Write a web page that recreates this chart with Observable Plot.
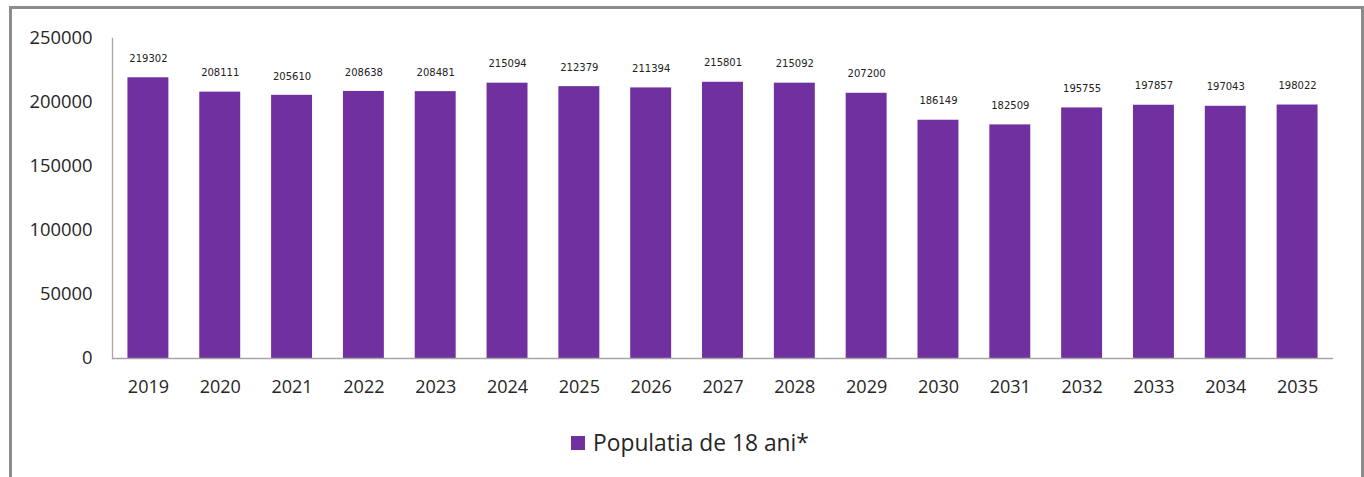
<!DOCTYPE html>
<html>
<head>
<meta charset="utf-8">
<script src="https://cdn.jsdelivr.net/npm/d3@7"></script>
<script src="https://cdn.jsdelivr.net/npm/@observablehq/plot@0.6"></script>
<style>
  html, body { margin: 0; padding: 0; background: #fff; overflow: hidden; width: 1364px; height: 477px; }
  #frame { position: absolute; left: 9px; top: 6px; width: 1355px; height: 540px; border: 3px solid #8c8c8c; box-sizing: border-box; }
  #chart { position: absolute; left: 0; top: 0; }
  #legend { position: absolute; left: 571px; top: 427px; display: flex; align-items: center; font-family: "Open Sans", sans-serif; font-size: 22.8px; color: #262626; }
  #legend .sw { width: 14px; height: 14px; background: #7030A0; margin-right: 8px; }
</style>
</head>
<body>
<div id="frame"></div>
<div id="chart"></div>
<div id="legend"><span class="sw"></span><span>Populatia de 18 ani*</span></div>
<script>
const years = ["2019","2020","2021","2022","2023","2024","2025","2026","2027","2028","2029","2030","2031","2032","2033","2034","2035"];
const population = [219302,208111,205610,208638,208481,215094,212379,211394,215801,215092,207200,186149,182509,195755,197857,197043,198022];
const yTicks = [0,50000,100000,150000,200000,250000];
const seriesName = "Populatia de 18 ani*";

const data = years.map((y, i) => ({year: y, value: population[i]}));

const chart = Plot.plot({
  width: 1364,
  height: 410,
  marginLeft: 112,
  marginRight: 31,
  marginTop: 38,
  marginBottom: 52,
  style: {fontFamily: "'Open Sans', sans-serif", color: "#262626", background: "transparent", overflow: "visible"},
  x: {domain: years, paddingInner: 0.43, paddingOuter: 0.215, round: false, label: null},
  y: {domain: [0, 250000], label: null},
  marks: [
    Plot.barY(data, {x: "year", y: "value", fill: "#7030A0"}),
    Plot.ruleY([0], {stroke: "#a6a6a6", strokeWidth: 1.3}),
    Plot.frame({anchor: "left", stroke: "#a6a6a6", strokeWidth: 1.3}),
    Plot.text(data, {x: "year", y: "value", text: d => String(d.value), dy: -19, fontSize: 10, fontFamily: "'DejaVu Sans', sans-serif", fill: "#222"}),
    Plot.axisY({ticks: yTicks, tickSize: 0, tickPadding: 20, tickFormat: d => String(d), fontSize: 18.4, label: null}),
    Plot.axisX({tickSize: 0, tickPadding: 22, fontSize: 18, label: null})
  ]
});
document.getElementById("chart").appendChild(chart);
</script>
</body>
</html>
